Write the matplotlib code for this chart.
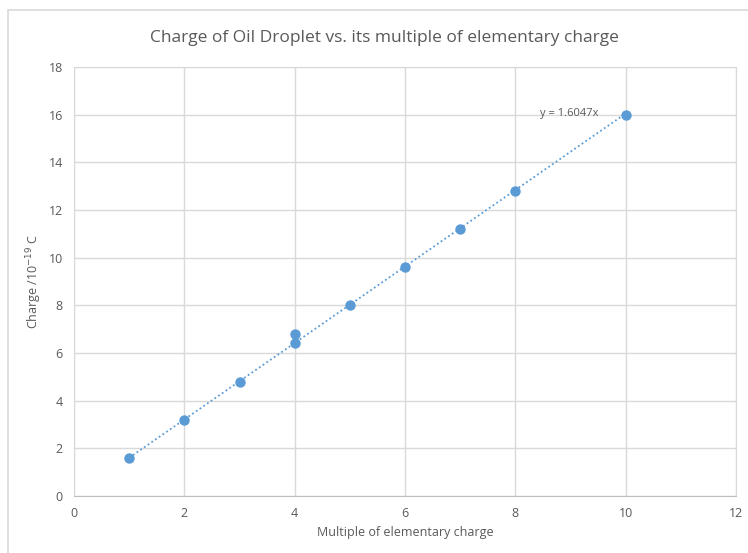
import matplotlib.pyplot as plt
import numpy as np
from matplotlib.patches import Rectangle

plt.rcParams['font.family'] = ['Open Sans', 'DejaVu Sans']

# multiple of elementary charge vs measured charge (1e-19 C)
multiple = [1, 2, 3, 4, 4, 5, 6, 7, 8, 10]
charge = [1.6, 3.2, 4.8, 6.4, 6.8, 8.0, 9.6, 11.2, 12.8, 16.0]
slope = 1.6047
x_ticks = [0, 2, 4, 6, 8, 10, 12]
y_ticks = [0, 2, 4, 6, 8, 10, 12, 14, 16, 18]

grey = '#595959'
blue = '#5b9bd5'

fig = plt.figure(figsize=(7.48, 5.53), dpi=100)
ax = fig.add_axes([74/748, 1 - 496/553, (736 - 74)/748, (496 - 67)/553])

# chart area border (Excel-style)
fig.patches.append(Rectangle((8/748, -0.1), 1.2, 1 - 10/553 + 0.1,
                             transform=fig.transFigure, fill=False,
                             edgecolor='#d9d9d9', lw=1.2))

ax.set_xlim(0, 12)
ax.set_ylim(0, 18)
ax.set_xticks(x_ticks)
ax.set_yticks(y_ticks)
ax.grid(True, color='#d9d9d9', lw=1)
ax.set_axisbelow(True)
for s in ax.spines.values():
    s.set_color('#d9d9d9')
ax.spines['bottom'].set_color('#bfbfbf')
ax.tick_params(length=0, colors=grey, labelsize=9, pad=8)

xx = np.array([min(multiple), max(multiple)])
ax.plot(xx, slope * xx, color=blue, ls=(0, (1, 1.5)), lw=1.3)
ax.scatter(multiple, charge, s=42, color=blue, zorder=3)

ax.text(10 - 0.5, slope * 10, 'y = %.4fx' % slope, ha='right', va='center',
        color=grey, fontsize=8)

fig.text(384/748, 1 - 38/553, 'Charge of Oil Droplet vs. its multiple of elementary charge',
         ha='center', va='center', color=grey, fontsize=12.5)
ax.set_xlabel('Multiple of elementary charge', color=grey, fontsize=9, labelpad=4)
ax.set_ylabel('Charge /10$^{-19}$ C', color=grey, fontsize=9, labelpad=3)

fig.savefig('out.png', dpi=100)
